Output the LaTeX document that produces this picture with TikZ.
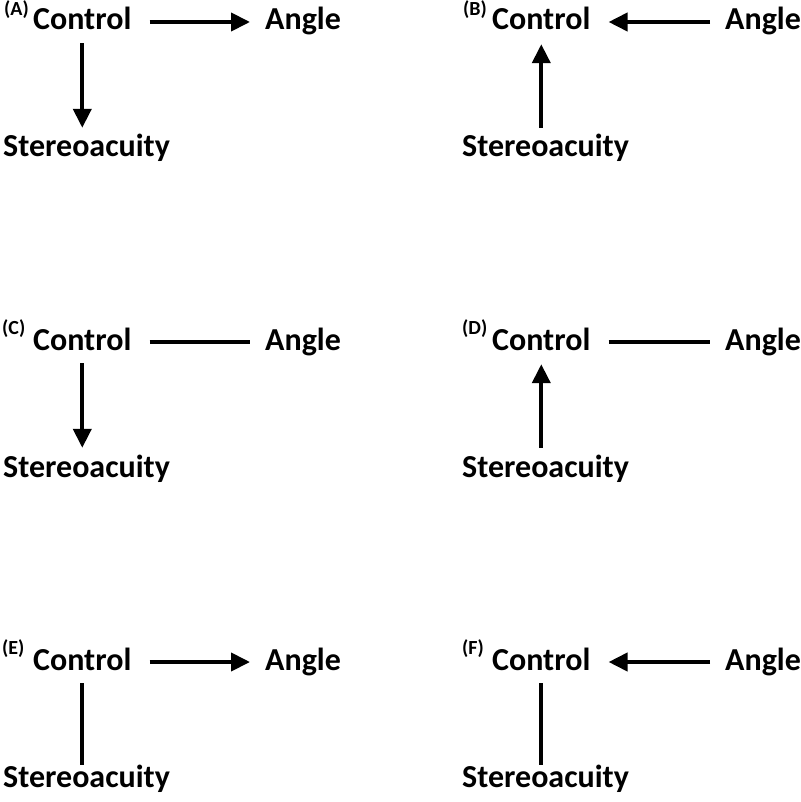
\documentclass[tikz,border=0pt]{standalone}
\usepackage{fontspec}
\setmainfont{Carlito}
\usetikzlibrary{arrows.meta}

\begin{document}
\begin{tikzpicture}[x=1pt,y=1pt,yscale=-1,xscale=1,
    lbl/.style={inner sep=0pt,anchor=base west,text height=22pt,text depth=6pt,font=\fontsize{32}{38}\selectfont\bfseries},
    tag/.style={inner sep=0pt,anchor=base west,font=\fontsize{20}{24}\selectfont\bfseries},
    link/.style={line width=4pt},
    cause/.style={link,-{Triangle[length=19pt,width=18pt]}}]
            \path[use as bounding box] (0,0) rectangle (800,802); %page size of the figure

            % Panel (A)
            \node [tag] (tagA) at (4,16) {(A)};
            \node [lbl] (ctrlA) at (33,30) {Control};
            \node [lbl] (angA) at (265,30) {Angle};
            \node [lbl] (stereoA) at (3,157) {Stereoacuity};
            \draw [cause,shorten <=18pt,shorten >=15pt] (ctrlA.east) -- (ctrlA.east -| angA.west);
            \draw [cause,shorten <=7pt,shorten >=7pt] (ctrlA.south) -- (ctrlA.south |- stereoA.north);

            % Panel (B)
            \node [tag] (tagB) at (463,16) {(B)};
            \node [lbl] (ctrlB) at (492,30) {Control};
            \node [lbl] (angB) at (725,30) {Angle};
            \node [lbl] (stereoB) at (462,157) {Stereoacuity};
            \draw [cause,shorten <=15pt,shorten >=18pt] (ctrlB.east -| angB.west) -- (ctrlB.east);
            \draw [cause,shorten <=7pt,shorten >=8pt] (ctrlB.south |- stereoB.north) -- (ctrlB.south);

            % Panel (C)
            \node [tag] (tagC) at (2,334) {(C)};
            \node [lbl] (ctrlC) at (33,350) {Control};
            \node [lbl] (angC) at (265,350) {Angle};
            \node [lbl] (stereoC) at (3,477) {Stereoacuity};
            \draw [link,shorten <=18pt,shorten >=15pt] (ctrlC.east) -- (ctrlC.east -| angC.west);
            \draw [cause,shorten <=7pt,shorten >=7pt] (ctrlC.south) -- (ctrlC.south |- stereoC.north);

            % Panel (D)
            \node [tag] (tagD) at (462,334) {(D)};
            \node [lbl] (ctrlD) at (492,350) {Control};
            \node [lbl] (angD) at (725,350) {Angle};
            \node [lbl] (stereoD) at (462,477) {Stereoacuity};
            \draw [link,shorten <=18pt,shorten >=15pt] (ctrlD.east) -- (ctrlD.east -| angD.west);
            \draw [cause,shorten <=7pt,shorten >=8pt] (ctrlD.south |- stereoD.north) -- (ctrlD.south);

            % Panel (E)
            \node [tag] (tagE) at (2,654) {(E)};
            \node [lbl] (ctrlE) at (33,670) {Control};
            \node [lbl] (angE) at (265,670) {Angle};
            \node [lbl] (stereoE) at (3,787) {Stereoacuity};
            \draw [cause,shorten <=18pt,shorten >=15pt] (ctrlE.east) -- (ctrlE.east -| angE.west);
            \draw [link,shorten <=7pt] (ctrlE.south) -- (ctrlE.south |- stereoE.north);

            % Panel (F)
            \node [tag] (tagF) at (462,654) {(F)};
            \node [lbl] (ctrlF) at (492,670) {Control};
            \node [lbl] (angF) at (725,670) {Angle};
            \node [lbl] (stereoF) at (462,787) {Stereoacuity};
            \draw [cause,shorten <=15pt,shorten >=18pt] (ctrlF.east -| angF.west) -- (ctrlF.east);
            \draw [link,shorten <=7pt] (ctrlF.south) -- (ctrlF.south |- stereoF.north);

            \end{tikzpicture}
\end{document}
